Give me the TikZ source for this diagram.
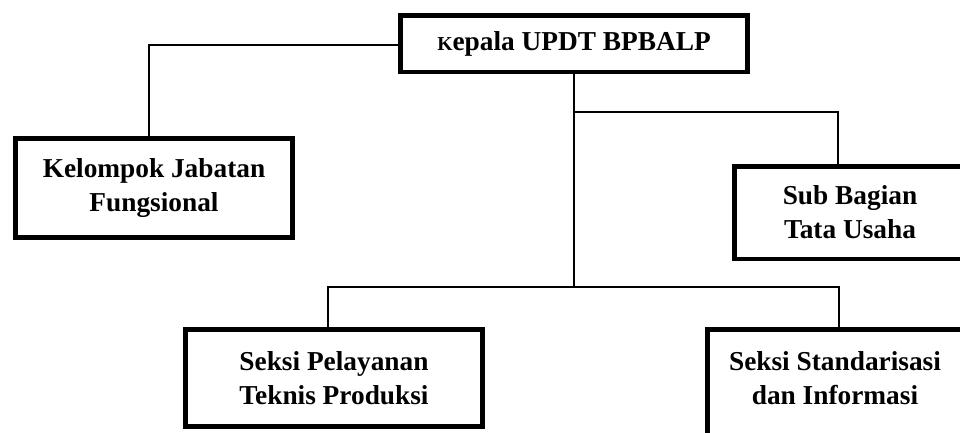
\documentclass[tikz,border=0pt]{standalone}
\usepackage{fontspec}
\setmainfont{Liberation Serif}
\begin{document}
\begin{tikzpicture}[x=0.75pt,y=-0.75pt,
  orgbox/.style={draw=black, line width=3.4pt, fill=white, inner sep=0pt, align=center,
    font=\bfseries\fontsize{20.5pt}{25.5pt}\selectfont},
  boxtext/.style={inner sep=0pt, align=center, font=\bfseries\fontsize{20.5pt}{25.5pt}\selectfont},
  link/.style={draw=black, line width=1.2pt}]
\useasboundingbox (0,0) rectangle (960,432);
\clip (0,0) rectangle (960,432);
\fill[white] (0,0) rectangle (960,432);

\coordinate (ljoin) at (149,45);
\coordinate (rb) at (574,112);
\coordinate (rjoin) at (838,112);
\coordinate (trunk) at (574,287);
\coordinate (blj) at (328,287);
\coordinate (brj) at (839,287);

\node[orgbox, minimum width=260.6pt, minimum height=42.4pt] (top) at (574,43.5)
  {{\fontsize{14.8pt}{14.8pt}\selectfont K}epala UPDT BPBALP};
\node[orgbox, minimum width=208.1pt, minimum height=74.6pt] (left) at (154,188)
  {Kelompok Jabatan\\Fungsional};
\node[orgbox, minimum width=173.6pt, minimum height=69.4pt] (right) at (850,212.5)
  {Sub Bagian\\Tata Usaha};
\node[orgbox, minimum width=223.1pt, minimum height=73.1pt] (bl) at (334,378)
  {Seksi Pelayanan\\Teknis Produksi};
\node[orgbox, minimum width=191.6pt, minimum height=103.9pt] (br) at (835,398.5) {};
\node[boxtext] (brtext) at (835,378) {Seksi Standarisasi\\dan Informasi};

\draw[link] (top.west |- ljoin) -- (ljoin) -- (ljoin |- left.north);
\draw[link] (top.south) -- (trunk);
\draw[link] (rb) -- (rjoin) -- (rjoin |- right.north);
\draw[link] (blj |- bl.north) -- (blj) -- (brj) -- (brj |- br.north);
\end{tikzpicture}
\end{document}
